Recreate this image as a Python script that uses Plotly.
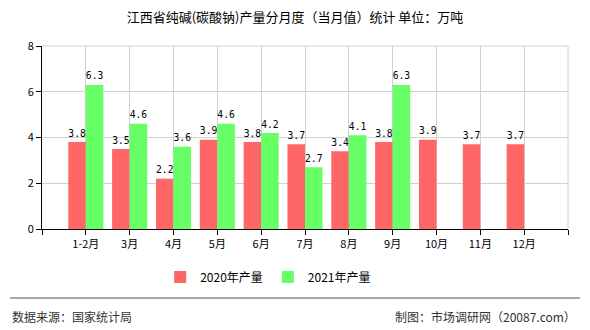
import plotly.graph_objects as go

categories = ["1-2月", "3月", "4月", "5月", "6月", "7月", "8月", "9月", "10月", "11月", "12月"]
values_2020 = [3.8, 3.5, 2.2, 3.9, 3.8, 3.7, 3.4, 3.8, 3.9, 3.7, 3.7]
values_2021 = [6.3, 4.6, 3.6, 4.6, 4.2, 2.7, 4.1, 6.3, None, None, None]
y_ticks = [0, 2, 4, 6, 8]

positions = list(range(1, len(categories) + 1))
FONT = "Noto Sans CJK SC, sans-serif"
MONO = "DejaVu Sans Mono, monospace"

fig = go.Figure()
fig.add_trace(go.Bar(
    x=positions, y=values_2020, name="2020年产量",
    marker=dict(color="#ff6666", line=dict(width=0)),
    text=[f"{v:.1f}" for v in values_2020], textposition="outside", textangle=0,
    textfont=dict(family=MONO, size=12, color="#000"), cliponaxis=False,
))
txt21 = [f"{v:.1f}" if v is not None else "" for v in values_2021]
fig.add_trace(go.Bar(
    x=positions, y=values_2021, name="2021年产量",
    marker=dict(color="#66ff66", line=dict(width=0)),
    text=txt21, textposition="outside", textangle=0,
    textfont=dict(family=MONO, size=12, color="#000"), cliponaxis=False,
))

L, R, T, B = 42, 22, 46, 101
W, H = 590, 330
ph = H - T - B
pw = W - L - R

def py(y):
    return (H - B - y) / ph

def px(x):
    return (x - L) / pw

fig.update_layout(
    width=W, height=H,
    margin=dict(l=L, r=R, t=T, b=B),
    paper_bgcolor="white", plot_bgcolor="white",
    barmode="group", bargap=0.2, bargroupgap=0,
    font=dict(family=FONT, size=12, color="#000"),
    title=dict(text="江西省纯碱(碳酸钠)产量分月度（当月值）统计 单位：万吨",
               x=0.5, xanchor="center", y=1 - 17 / H, yanchor="middle",
               font=dict(family=FONT, size=13, color="#000")),
    showlegend=True,
    legend=dict(orientation="h", x=0.43, xanchor="center", y=1 - 277 / H, yanchor="middle",
                yref="container", font=dict(family=FONT, size=12, color="#000"),
                itemwidth=30, traceorder="normal"),
    xaxis=dict(range=[0, 12], tickvals=positions + [0, 12], ticktext=categories + ["", ""],
               showgrid=True, gridcolor="#d0d0d0", gridwidth=1,
               showline=True, linecolor="#000", linewidth=1,
               ticks="outside", ticklen=5, tickcolor="#000",
               tickfont=dict(family=FONT, size=11, color="#000"), zeroline=False, fixedrange=True),
    yaxis=dict(range=[0, 8], tickvals=y_ticks, showgrid=True, gridcolor="#d0d0d0", gridwidth=1,
               showline=True, linecolor="#000", linewidth=1,
               ticks="outside", ticklen=5, tickcolor="#000",
               tickfont=dict(family=FONT, size=11, color="#000"), zeroline=False),
)

# top/right frame lines as grid
fig.add_shape(type="line", xref="paper", yref="paper", x0=1, x1=1, y0=0, y1=1,
              line=dict(color="#d0d0d0", width=1))
fig.add_shape(type="line", xref="paper", yref="paper", x0=0, x1=1, y0=1, y1=1,
              line=dict(color="#d0d0d0", width=1))

# footer separator
fig.add_shape(type="line", xref="paper", yref="paper", x0=px(10), x1=px(580), y0=py(298), y1=py(298),
              line=dict(color="#888", width=1.5))
fig.add_annotation(text="数据来源：国家统计局", xref="paper", yref="paper", x=px(10), y=py(316),
                   xanchor="left", yanchor="middle", showarrow=False,
                   font=dict(family=FONT, size=12, color="#333"))
fig.add_annotation(text="制图：市场调研网（20087.com）", xref="paper", yref="paper", x=px(578), y=py(316),
                   xanchor="right", yanchor="middle", showarrow=False,
                   font=dict(family=FONT, size=12, color="#333"))

fig.write_html("out.html")
